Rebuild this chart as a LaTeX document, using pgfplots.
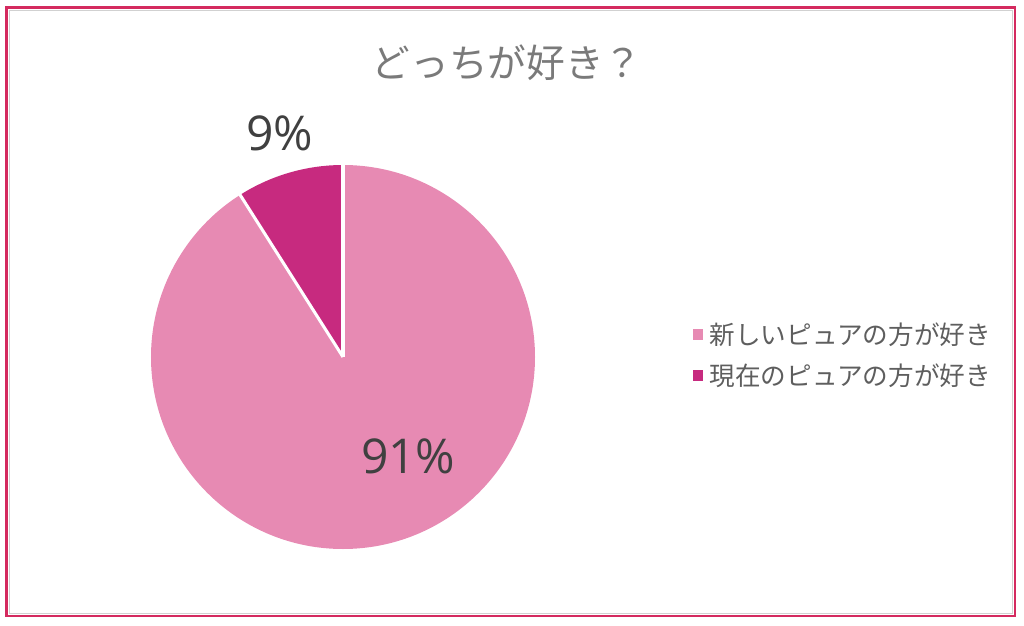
\documentclass[border=0pt]{standalone}
\usepackage{pgfplots}
\usepackage{pgfplotstable}
\pgfplotsset{compat=1.18}
\usepackage{fontspec}
\setmainfont{Noto Sans CJK JP}
\newfontfamily\lat{Open Sans}

\definecolor{newpink}{HTML}{E78AB3}
\definecolor{curpink}{HTML}{C72A7F}
\definecolor{frame}{HTML}{D42A5F}
\definecolor{titlegray}{HTML}{7A7A7A}
\definecolor{leggray}{HTML}{5E5E5E}
\definecolor{labgray}{HTML}{404040}

% share of each answer, in percent
\pgfplotstableread{
answer value
new    91
cur    9
}\piedata

\begin{document}
\begin{tikzpicture}[x=0.75pt,y=0.75pt]
\path[use as bounding box] (0,0) rectangle (1024,625);
\draw[frame, line width=1.8pt] (6.5,617.5) rectangle (1015,9);
\draw[black!18, line width=0.6pt] (9.5,614.5) rectangle (1012,12);
\node[text=titlegray, font=\fontsize{29}{33}\selectfont] at (507,562) {どっちが好き？};

\pgfplotstablegetelem{0}{value}\of\piedata \let\vnew\pgfplotsretval
\pgfplotstablegetelem{1}{value}\of\piedata \let\vcur\pgfplotsretval
\pgfmathsetmacro\anew{90-3.6*\vnew}
\pgfmathsetmacro\acur{90-3.6*(\vnew+\vcur)}
\pgfmathsetmacro\cx{cos(\anew)}
\pgfmathsetmacro\cy{sin(\anew)}

\begin{axis}[
    at={(113.25pt,57pt)}, anchor=south west,
    width=288pt, height=288pt, scale only axis,
    xmin=-1, xmax=1, ymin=-1, ymax=1,
    hide axis, clip=false,
    legend style={at={(1.41,0.505)}, anchor=west, draw=none, fill=none,
        font=\fontsize{19.2}{22}\selectfont, text=leggray,
        row sep=9pt, inner xsep=0pt, cells={anchor=west}},
    legend image code/.code={\fill[#1, draw=none] (0pt,-3.9pt) rectangle (7.8pt,3.9pt);},
    ]
\addlegendimage{fill=newpink, draw=none}
\addlegendentry{\hspace{3pt}新しいピュアの方が好き}
\addlegendimage{fill=curpink, draw=none}
\addlegendentry{\hspace{3pt}現在のピュアの方が好き}

\fill[newpink] (axis cs:0,0) -- (axis cs:0,1) arc[start angle=90, end angle=\anew, radius=144pt] -- cycle;
\fill[curpink] (axis cs:0,0) -- (axis cs:\cx,\cy) arc[start angle=\anew, end angle=\acur, radius=144pt] -- cycle;
\draw[white, line width=2.3pt] (axis cs:0,0) -- (axis cs:0,1.01);
\draw[white, line width=2.3pt] (axis cs:0,0) -- (axis cs:1.01*\cx,1.01*\cy);

\node[text=labgray, font=\lat\fontsize{36}{40}\selectfont] at (axis cs:-0.33,1.165) {\vcur\%};
\node[text=labgray, font=\lat\fontsize{36}{40}\selectfont] at (axis cs:0.34,-0.52) {\vnew\%};
\end{axis}
\end{tikzpicture}
\end{document}
